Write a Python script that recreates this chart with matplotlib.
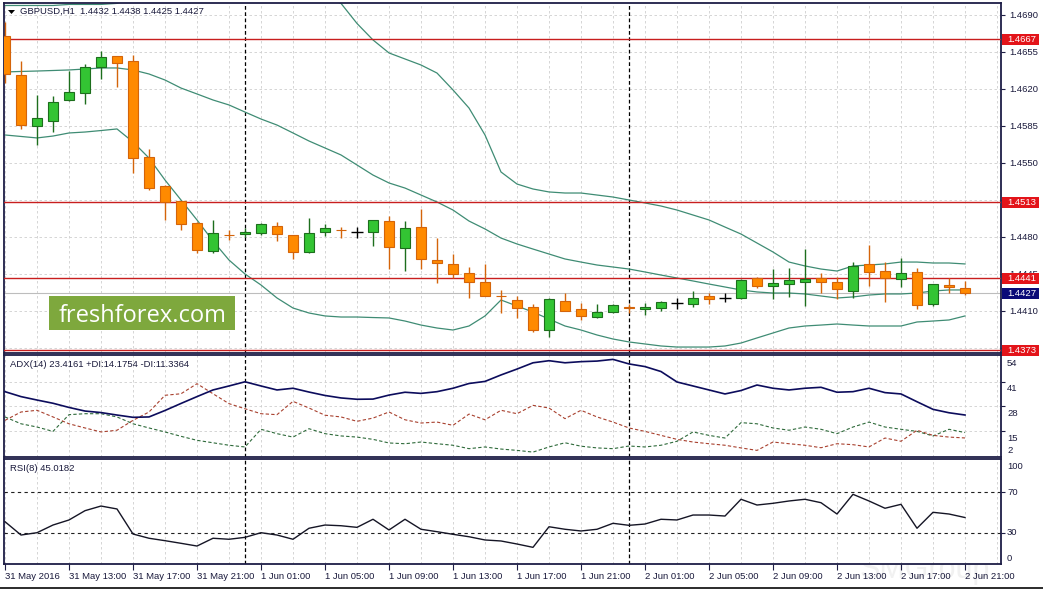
import numpy as np
import matplotlib.pyplot as plt
from matplotlib.patches import Rectangle, Polygon
from matplotlib import transforms

plt.rcParams['font.family'] = ['Liberation Sans', 'DejaVu Sans']

# ---------------- data (GBPUSD H1) ----------------
time_labels = ["31 May 2016", "31 May 13:00", "31 May 17:00", "31 May 21:00",
               "1 Jun 01:00", "1 Jun 05:00", "1 Jun 09:00", "1 Jun 13:00",
               "1 Jun 17:00", "1 Jun 21:00", "2 Jun 01:00", "2 Jun 05:00",
               "2 Jun 09:00", "2 Jun 13:00", "2 Jun 17:00", "2 Jun 21:00"]

opens = [1.46701, 1.46330, 1.45853, 1.45900, 1.46093, 1.46159, 1.46411, 1.46512,
         1.46465, 1.45557, 1.45282, 1.45138, 1.44932, 1.44663, 1.44822, 1.44825,
         1.44835, 1.44907, 1.44819, 1.44655, 1.44844, 1.44868, 1.44850, 1.44844,
         1.44951, 1.44699, 1.44892, 1.44582, 1.44542, 1.44456, 1.44371, 1.44245,
         1.44204, 1.44140, 1.43920, 1.44197, 1.44116, 1.44040, 1.44094, 1.44138,
         1.44116, 1.44127, 1.44173, 1.44166, 1.44242, 1.44226, 1.44220, 1.44409,
         1.44332, 1.44352, 1.44371, 1.44409, 1.44371, 1.44292, 1.44542, 1.44481,
         1.44400, 1.44466, 1.44163, 1.44346, 1.44320]
highs = [1.46834, 1.46465, 1.46143, 1.46134, 1.46373, 1.46436, 1.46562, 1.46515,
         1.46522, 1.45635, 1.45290, 1.45140, 1.44940, 1.44961, 1.44866, 1.44885,
         1.44937, 1.44945, 1.44822, 1.44984, 1.44920, 1.44892, 1.44897, 1.44962,
         1.44999, 1.44951, 1.45065, 1.44793, 1.44639, 1.44519, 1.44542, 1.44299,
         1.44238, 1.44166, 1.44220, 1.44273, 1.44173, 1.44163, 1.44165, 1.44163,
         1.44173, 1.44195, 1.44220, 1.44289, 1.44273, 1.44267, 1.44400, 1.44424,
         1.44494, 1.44511, 1.44683, 1.44462, 1.44419, 1.44561, 1.44724, 1.44566,
         1.44604, 1.44504, 1.44355, 1.44409, 1.44380]
lows = [1.46257, 1.45819, 1.45670, 1.45796, 1.46090, 1.46058, 1.46292, 1.46222,
        1.45402, 1.45245, 1.44961, 1.44866, 1.44646, 1.44646, 1.44771, 1.44800,
        1.44816, 1.44765, 1.44589, 1.44652, 1.44812, 1.44788, 1.44788, 1.44718,
        1.44494, 1.44481, 1.44494, 1.44368, 1.44409, 1.44226, 1.44240, 1.44078,
        1.44036, 1.43898, 1.43851, 1.44100, 1.44015, 1.44030, 1.44080, 1.44078,
        1.44062, 1.44103, 1.44116, 1.44141, 1.44163, 1.44186, 1.44211, 1.44314,
        1.44211, 1.44237, 1.44150, 1.44267, 1.44213, 1.44226, 1.44339, 1.44186,
        1.44324, 1.44116, 1.44150, 1.44267, 1.44250]
closes = [1.46342, 1.45862, 1.45923, 1.46074, 1.46171, 1.46405, 1.46500, 1.46443,
          1.45544, 1.45266, 1.45128, 1.44920, 1.44677, 1.44837, 1.44816, 1.44844,
          1.44920, 1.44825, 1.44661, 1.44835, 1.44882, 1.44862, 1.44850, 1.44958,
          1.44708, 1.44882, 1.44589, 1.44551, 1.44447, 1.44377, 1.44245, 1.44238,
          1.44127, 1.43920, 1.44211, 1.44103, 1.44053, 1.44088, 1.44157, 1.44132,
          1.44140, 1.44187, 1.44173, 1.44220, 1.44216, 1.44226, 1.44393, 1.44339,
          1.44362, 1.44393, 1.44402, 1.44377, 1.44305, 1.44530, 1.44472, 1.44409,
          1.44456, 1.44157, 1.44352, 1.44330, 1.44270]

bb_upper = [1.4699, 1.4699, 1.4699, 1.4699, 1.4700, 1.4700, 1.4700, 1.4701,
            1.4706, 1.4712, 1.4718, 1.4722, 1.4725, 1.4726, 1.4726, 1.4725,
            1.4723, 1.4720, 1.4716, 1.4712, 1.4707, 1.4701, 1.4682, 1.46664,
            1.46541, 1.46484, 1.46427, 1.46351, 1.46191, 1.46020, 1.45765, 1.45415,
            1.45301, 1.45254, 1.45226, 1.45216, 1.45216, 1.45197, 1.45178, 1.45150,
            1.45122, 1.45093, 1.45055, 1.45008, 1.44961, 1.44894, 1.44828, 1.44743,
            1.44658, 1.44563, 1.44526, 1.44497, 1.44478, 1.44526, 1.44535, 1.44545,
            1.44563, 1.44563, 1.44554, 1.44554, 1.44545]
bb_middle = [1.46361, 1.46366, 1.46370, 1.46375, 1.46380, 1.46389, 1.46399, 1.46399,
             1.46380, 1.46342, 1.46285, 1.46209, 1.46153, 1.46096, 1.46049, 1.45982,
             1.45916, 1.45859, 1.45784, 1.45708, 1.45642, 1.45576, 1.45481, 1.45386,
             1.45311, 1.45263, 1.45197, 1.45131, 1.45055, 1.44951, 1.44876, 1.44790,
             1.44734, 1.44686, 1.44639, 1.44592, 1.44563, 1.44535, 1.44516, 1.44497,
             1.44469, 1.44440, 1.44412, 1.44384, 1.44355, 1.44327, 1.44299, 1.44280,
             1.44270, 1.44270, 1.44261, 1.44242, 1.44223, 1.44233, 1.44251, 1.44261,
             1.44261, 1.44270, 1.44289, 1.44299, 1.44299]
bb_lower = [1.45765, 1.45751, 1.45737, 1.45755, 1.45784, 1.45793, 1.45807, 1.45822,
            1.45699, 1.45547, 1.45339, 1.45150, 1.44961, 1.44762, 1.44582, 1.44450,
            1.44346, 1.44223, 1.44128, 1.44081, 1.44053, 1.44043, 1.44043, 1.44038,
            1.44034, 1.44005, 1.43967, 1.43939, 1.43920, 1.43958, 1.44053, 1.44204,
            1.44147, 1.44090, 1.44024, 1.43958, 1.43920, 1.43873, 1.43835, 1.43807,
            1.43788, 1.43769, 1.43759, 1.43759, 1.43759, 1.43769, 1.43797, 1.43845,
            1.43892, 1.43939, 1.43958, 1.43967, 1.43977, 1.43967, 1.43958, 1.43958,
            1.43958, 1.43996, 1.44005, 1.44015, 1.44053]

adx_main = [35.7, 33.1, 31.3, 29.6, 27.4, 25.5, 24.7, 23.4, 22.2, 22.4, 25.8, 29.5,
            33.1, 36.6, 38.7, 40.9, 38.7, 36.6, 37.5, 35.5, 33.7, 32.4, 31.7, 31.8,
            33.9, 35.4, 34.8, 35.7, 37.5, 40.0, 41.1, 44.5, 47.6, 50.9, 52.0, 50.9,
            51.5, 51.8, 52.7, 50.3, 48.9, 46.3, 40.8, 38.7, 36.6, 34.5, 36.3, 39.2,
            37.5, 36.6, 37.5, 38.0, 35.4, 35.7, 37.5, 35.2, 34.5, 30.4, 26.4, 24.6,
            23.4161]
plus_di = [22.4, 18.8, 17.1, 14.8, 23.6, 24.1, 24.1, 22.4, 18.8, 16.6, 14.5, 12.2,
           10.1, 8.8, 7.5, 6.6, 15.9, 13.6, 11.8, 16.2, 13.6, 12.4, 11.8, 10.6,
           8.7, 8.3, 9.2, 8.3, 7.5, 5.7, 6.6, 5.5, 4.8, 3.9, 6.6, 8.8,
           7.0, 6.1, 5.7, 7.1, 6.6, 7.5, 9.6, 14.5, 12.7, 11.3, 19.4, 18.8,
           16.6, 15.4, 17.1, 15.9, 13.6, 17.1, 19.7, 17.1, 15.9, 14.8, 12.4, 15.9,
           14.1754]
minus_di = [20.6, 25.0, 25.9, 22.4, 18.8, 16.6, 14.5, 15.4, 20.6, 25.0, 33.8, 34.6,
            39.9, 34.6, 29.4, 26.7, 24.1, 23.6, 30.6, 27.1, 23.3, 22.4, 20.1, 21.8,
            25.0, 20.9, 19.2, 19.7, 18.0, 23.9, 20.9, 25.9, 24.1, 28.5, 27.1, 21.5,
            25.9, 22.4, 19.7, 16.6, 14.8, 12.7, 10.6, 9.2, 8.3, 7.5, 6.1, 4.8,
            9.2, 8.3, 7.5, 6.2, 8.3, 7.8, 6.6, 11.3, 9.6, 15.4, 12.7, 11.8,
            11.3364]
rsi8 = [40.9, 27.7, 30.0, 37.6, 42.6, 51.8, 56.4, 53.5, 28.7, 24.5, 22.1, 19.5,
        16.8, 24.5, 23.5, 25.4, 30.0, 27.7, 23.5, 34.4, 37.6, 36.9, 35.3, 43.3,
        32.7, 43.3, 33.4, 31.0, 28.4, 26.0, 22.8, 21.8, 18.8, 15.5, 35.9, 33.4,
        31.7, 33.4, 39.3, 37.3, 38.6, 43.3, 42.6, 47.5, 47.5, 46.5, 63.1, 57.4,
        59.1, 61.4, 63.1, 59.7, 48.5, 68.0, 61.4, 54.2, 58.1, 34.4, 50.2, 48.5,
        45.0182]

price_ticks = [1.4690, 1.4655, 1.4620, 1.4585, 1.4550, 1.4515, 1.4480, 1.4445, 1.4410, 1.4375]
hidden_ticks = [1.4515, 1.4375]          # covered by the level boxes
level_lines = [1.4667, 1.4513, 1.4441, 1.4373]
last_price = 1.4427
adx_ticks = [54, 41, 28, 15, 2]
rsi_ticks = [100, 70, 30, 0]
rsi_levels = [70, 30]

# ---------------- styling ----------------
W, H = 1043, 589
BULL, BULL_EDGE = '#33c433', '#1d6e1d'
BEAR, BEAR_EDGE = '#ff8a00', '#d4640a'
BAND = '#3f8c74'
FRAME = '#1e1e46'
TXT = '#1a1a3c'
GRID = '#cfcfcf'
FS = 6.8

fig = plt.figure(figsize=(W / 100, H / 100), dpi=100)


def px_rect(x0, y0, x1, y1):
    return [x0 / W, 1 - y1 / H, (x1 - x0) / W, (y1 - y0) / H]


ax_p = fig.add_axes(px_rect(4, 3, 1001, 353))
ax_a = fig.add_axes(px_rect(4, 355, 1001, 457))
ax_r = fig.add_axes(px_rect(4, 459, 1001, 564))

idx = np.arange(len(opens))
for ax in (ax_p, ax_a, ax_r):
    ax.set_xlim(-0.0625, 62.25)
    for s in ax.spines.values():
        s.set_color(FRAME)
        s.set_linewidth(1.3)
    ax.yaxis.tick_right()
    ax.tick_params(axis='y', length=3, width=0.8, color=FRAME, pad=3,
                   labelsize=FS, labelcolor=TXT)
    for g in range(0, 63, 2):
        ax.axvline(g, color=GRID, lw=0.6, ls=(0, (3, 3)), zorder=0)
    for d in (15, 39):
        ax.axvline(d, color='black', lw=0.9, ls=(0, (3, 2)), zorder=1)

# ---------------- price panel ----------------
ax_p.set_ylim(1.437026, 1.470135)
ax_p.set_xticks([])
ax_p.set_yticks(price_ticks)
ax_p.set_yticklabels(["" if t in hidden_ticks else f"{t:.4f}" for t in price_ticks])
for t in price_ticks:
    ax_p.axhline(t, color=GRID, lw=0.6, ls=(0, (3, 3)), zorder=0)

ax_p.plot(idx, bb_upper, color=BAND, lw=0.9, zorder=2)
ax_p.plot(idx, bb_middle, color=BAND, lw=0.9, zorder=2)
ax_p.plot(idx, bb_lower, color=BAND, lw=0.9, zorder=2)

ax_p.axhline(last_price, color='#bdbdbd', lw=0.8, zorder=1)
for lv in level_lines:
    ax_p.axhline(lv, color='#c81e1e', lw=1.0, zorder=3)

for i, (o, h, l, c) in enumerate(zip(opens, highs, lows, closes)):
    if c > o:
        fc, ec = BULL, BULL_EDGE
    elif c < o:
        fc, ec = BEAR, BEAR_EDGE
    else:
        fc, ec = 'black', 'black'
    ax_p.vlines(i, l, h, color=ec, lw=1.0, zorder=4)
    if c != o:
        ax_p.add_patch(Rectangle((i - 0.31, min(o, c)), 0.62, abs(c - o),
                                 facecolor=fc, edgecolor=ec, lw=0.8, zorder=5))
    else:
        ax_p.hlines(o, i - 0.36, i + 0.36, color='black', lw=1.0, zorder=5)

# value boxes on the price scale
box_tr = transforms.blended_transform_factory(fig.transFigure, ax_p.transData)
box_h = 11 / 10571.0
for lv, bg in [(v, '#e3141a') for v in level_lines] + [(last_price, '#0a0a78')]:
    fig.add_artist(Rectangle((1002 / W, lv - box_h / 2), 37 / W, box_h,
                             transform=box_tr, facecolor=bg, edgecolor='none',
                             clip_on=False, zorder=6))
    fig.text(1007 / W, lv, f"{lv:.4f}", transform=box_tr, color='white',
             fontsize=FS, va='center', ha='left', zorder=7)

# ---------------- ADX panel ----------------
ax_a.set_ylim(1.316, 55.0)
ax_a.set_xticks([])
ax_a.set_yticks([41, 28, 15])
ax_a.set_yticklabels([])
for t in [41, 28, 15]:
    ax_a.axhline(t, color=GRID, lw=0.6, ls=(0, (3, 3)), zorder=0)
ax_a.plot(idx, adx_main, color='#0c0c5c', lw=1.2, zorder=3)
ax_a.plot(idx, plus_di, color='#2e6a3a', lw=0.8, ls=(0, (3, 2)), zorder=2)
ax_a.plot(idx, minus_di, color='#a8402e', lw=0.8, ls=(0, (3, 2)), zorder=2)
adx_tr = transforms.blended_transform_factory(fig.transFigure, ax_a.transData)
for t in adx_ticks:
    dy = -7 if t != adx_ticks[-1] else 5
    tr = adx_tr + transforms.ScaledTranslation(0, dy / 100, fig.dpi_scale_trans)
    ax_a.text(1007 / W, t, str(t), transform=tr, fontsize=FS, color=TXT,
              va='center', ha='left', clip_on=False)

# ---------------- RSI panel ----------------
ax_r.set_ylim(-0.99, 102.97)
ax_r.set_yticks(rsi_levels)
ax_r.set_yticklabels([])
for lv in rsi_levels:
    ax_r.axhline(lv, color='#202020', lw=0.8, ls=(0, (3, 3)), zorder=1)
ax_r.plot(idx, rsi8, color='#151525', lw=1.0, zorder=3)
rsi_tr = transforms.blended_transform_factory(fig.transFigure, ax_r.transData)
for t in rsi_ticks:
    dy = {100: -5, 0: 5}.get(t, 0)
    tr = rsi_tr + transforms.ScaledTranslation(0, dy / 100, fig.dpi_scale_trans)
    ax_r.text(1007 / W, t, str(t), transform=tr, fontsize=FS, color=TXT,
              va='center', ha='left', clip_on=False)

ax_r.set_xticks(range(0, 61, 4))
ax_r.set_xticklabels(time_labels, ha='left')
ax_r.tick_params(axis='x', length=4, width=0.8, color=FRAME, pad=2,
                 labelsize=FS, labelcolor=TXT)

# ---------------- headers and watermarks ----------------
fig.add_artist(Polygon([[8 / W, 1 - 10 / H], [15 / W, 1 - 10 / H], [11.5 / W, 1 - 14 / H]],
                       closed=True, facecolor='black', edgecolor='none',
                       transform=fig.transFigure, zorder=8))
fig.text(20 / W, 1 - 11.7 / H, "GBPUSD,H1  1.4432 1.4438 1.4425 1.4427",
         fontsize=FS, color=TXT, va='center', ha='left', zorder=8)
fig.text(10 / W, 1 - 364.7 / H, "ADX(14) 23.4161 +DI:14.1754 -DI:11.3364",
         fontsize=FS, color=TXT, va='center', ha='left', zorder=8)
fig.text(10 / W, 1 - 468.3 / H, "RSI(8) 45.0182",
         fontsize=FS, color=TXT, va='center', ha='left', zorder=8)

fig.add_artist(Rectangle((49 / W, 1 - 329.7 / H), 186 / W, 33.7 / H,
                         transform=fig.transFigure, facecolor='#7ea83d',
                         edgecolor='none', zorder=9))
fig.text(143 / W, 1 - 322 / H, "freshforex.com", family=['Open Sans', 'DejaVu Sans'],
         fontsize=17, color='white', ha='center', va='baseline', zorder=10)

# faint logo behind the time scale, as in the screenshot
fig.text(925 / W, 1 - 570 / H, "SMGroup", fontsize=22, color='#f1f1f1',
         ha='center', va='center', zorder=-1)

fig.add_artist(Rectangle((0, 0), 1, 2 / H, transform=fig.transFigure,
                         facecolor='#303030', edgecolor='none', zorder=1))

fig.savefig("out.png", dpi=100)
